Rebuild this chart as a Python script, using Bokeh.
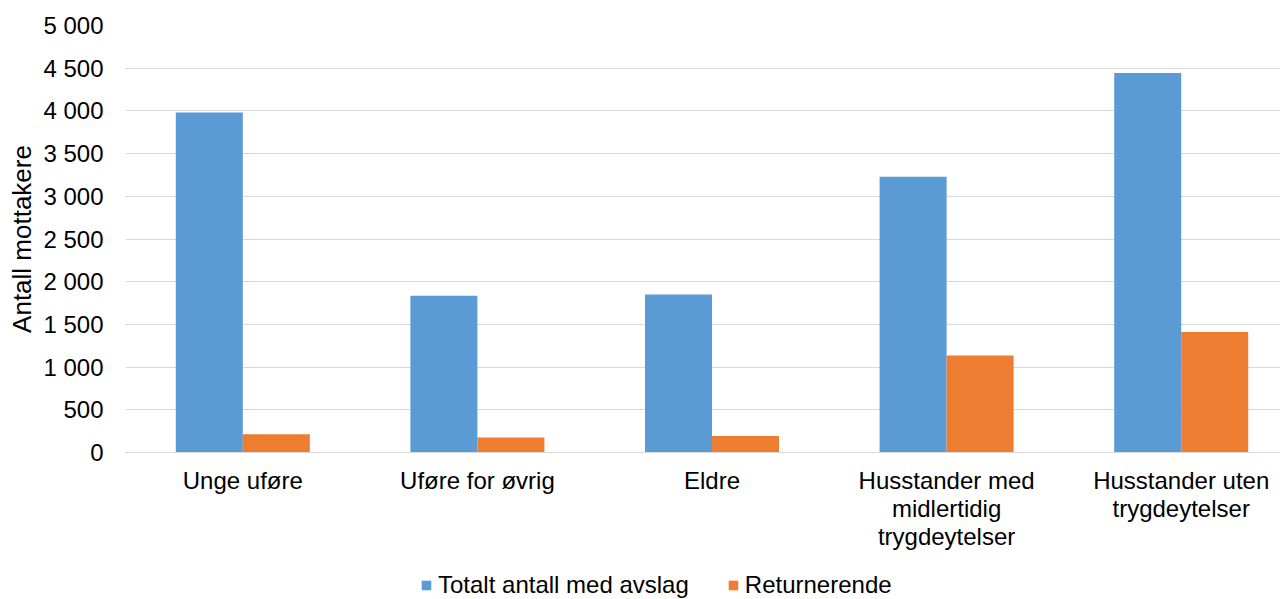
from bokeh.plotting import figure
from bokeh.layouts import column
from bokeh.models import Range1d, Legend, LegendItem, ColumnDataSource, FixedTicker
from bokeh.embed import file_html
from bokeh.resources import INLINE

categories = ["Unge uføre", "Uføre for øvrig", "Eldre",
              "Husstander med midlertidig trygdeytelser",
              "Husstander uten trygdeytelser"]
category_labels = ["Unge uføre", "Uføre for øvrig", "Eldre",
                   "Husstander med\nmidlertidig\ntrygdeytelser",
                   "Husstander uten\ntrygdeytelser"]
series_names = ["Totalt antall med avslag", "Returnerende"]
totalt = [3981, 1835, 1850, 3228, 4443]
returnerende = [215, 176, 192, 1136, 1410]
y_ticks = [0, 500, 1000, 1500, 2000, 2500, 3000, 3500, 4000, 4500, 5000]
y_tick_labels = ["0", "500", "1 000", "1 500", "2 000", "2 500", "3 000",
                 "3 500", "4 000", "4 500", "5 000"]
colors = ["#5B9BD5", "#ED7D31"]

FONT = "Liberation Sans"
BAR_W = 0.2856
idx = list(range(len(categories)))
centers = [i + 0.5 for i in idx]

src = ColumnDataSource(dict(
    cat=categories,
    x_tot=[c - BAR_W / 2 for c in centers],
    x_ret=[c + BAR_W / 2 for c in centers],
    totalt=totalt,
    returnerende=returnerende,
))

p = figure(width=1280, height=560, output_backend="svg", toolbar_location=None,
           x_range=Range1d(0, 1155 / 234.6), y_range=Range1d(0, 5000),
           min_border_left=125, min_border_right=0, min_border_top=25,
           min_border_bottom=108)
p.outline_line_color = None
p.background_fill_color = "white"

r1 = p.vbar(x="x_tot", top="totalt", width=BAR_W, source=src,
            fill_color=colors[0], line_color=None)
r2 = p.vbar(x="x_ret", top="returnerende", width=BAR_W, source=src,
            fill_color=colors[1], line_color=None)

# x axis
p.xaxis.ticker = FixedTicker(ticks=centers)
p.xaxis.major_label_overrides = {c: l for c, l in zip(centers, category_labels)}
p.xaxis.major_tick_line_color = None
p.xaxis.major_tick_out = 0
p.xaxis.major_tick_in = 0
p.xaxis.minor_tick_line_color = None
p.xaxis.axis_line_color = "#D9D9D9"
p.xaxis.axis_line_width = 1
p.xaxis.major_label_text_font = FONT
p.xaxis.major_label_text_font_size = "24px"
p.xaxis.major_label_text_color = "#000000"
p.xaxis.major_label_text_line_height = 1.045
p.xaxis.major_label_standoff = 14
p.xgrid.grid_line_color = None

# y axis
p.yaxis.ticker = FixedTicker(ticks=y_ticks)
p.yaxis.major_label_overrides = {t: l for t, l in zip(y_ticks, y_tick_labels)}
p.yaxis.major_tick_line_color = None
p.yaxis.major_tick_out = 0
p.yaxis.major_tick_in = 0
p.yaxis.minor_tick_line_color = None
p.yaxis.axis_line_color = None
p.yaxis.major_label_text_font = FONT
p.yaxis.major_label_text_font_size = "24px"
p.yaxis.major_label_text_color = "#000000"
p.yaxis.major_label_standoff = 22
p.yaxis.axis_label = "Antall mottakere"
p.yaxis.axis_label_text_font = FONT
p.yaxis.axis_label_text_font_size = "26px"
p.yaxis.axis_label_text_font_style = "normal"
p.yaxis.axis_label_text_color = "#000000"
p.yaxis.axis_label_standoff = 3
p.ygrid.grid_line_color = "#D9D9D9"
p.ygrid.grid_line_width = 1

# legend strip below the chart (its bars lie far outside its own ranges,
# so only the legend swatches and labels are visible)
lg = figure(width=1280, height=39, output_backend="svg", toolbar_location=None,
            x_range=Range1d(-1000, -999), y_range=Range1d(-20000, -19999),
            min_border_left=0, min_border_right=0, min_border_top=0,
            min_border_bottom=0)
lg.outline_line_color = None
lg.axis.visible = False
lg.grid.visible = False
d1 = lg.vbar(x="x_tot", top="totalt", width=BAR_W, source=src,
             fill_color=colors[0], line_color=None)
d2 = lg.vbar(x="x_ret", top="returnerende", width=BAR_W, source=src,
             fill_color=colors[1], line_color=None)
legend = Legend(items=[LegendItem(label=series_names[0], renderers=[d1]),
                       LegendItem(label=series_names[1], renderers=[d2])],
                orientation="horizontal", location=(295, 0),
                glyph_width=12, glyph_height=12, label_standoff=6, spacing=38,
                padding=0, margin=0, border_line_color=None,
                background_fill_alpha=0,
                label_text_font=FONT, label_text_font_size="24px",
                label_text_color="#000000", label_height=24)
lg.add_layout(legend, "center")

open("out.html", "w").write(file_html(column(p, lg, spacing=0), INLINE))
